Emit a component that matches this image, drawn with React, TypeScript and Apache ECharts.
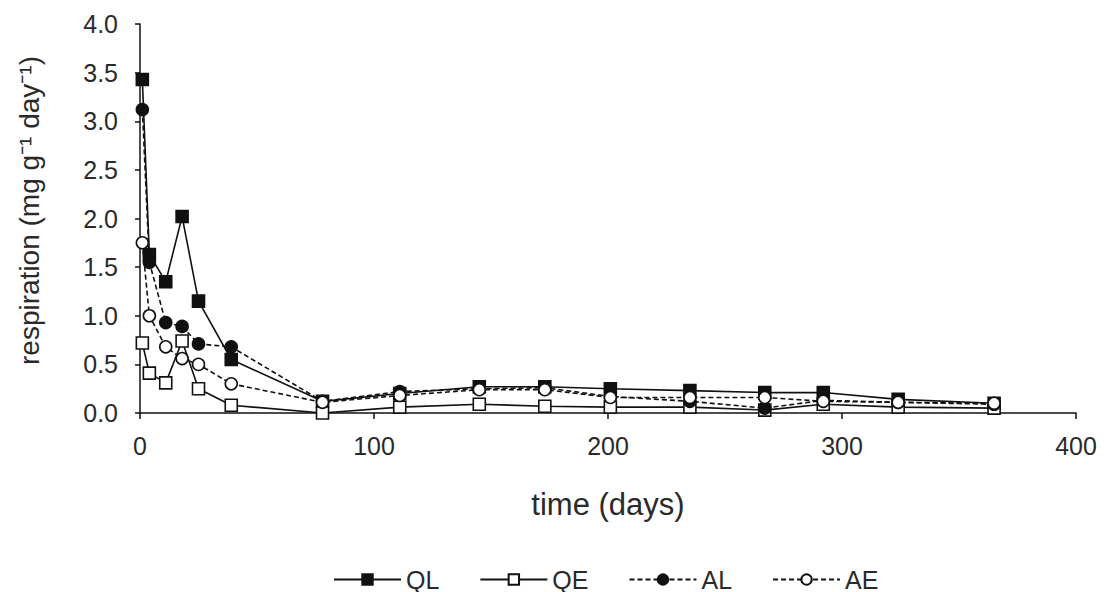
import React, { useEffect, useRef } from "react";
import * as echarts from "echarts";

const days = [1, 4, 11, 18, 25, 39, 78, 111, 145, 173, 201, 235, 267, 292, 324, 365];
const QL = [3.43, 1.63, 1.35, 2.02, 1.15, 0.55, 0.12, 0.2, 0.27, 0.27, 0.25, 0.23, 0.21, 0.21, 0.14, 0.1];
const QE = [0.72, 0.41, 0.31, 0.74, 0.25, 0.08, 0.0, 0.06, 0.09, 0.07, 0.06, 0.06, 0.03, 0.09, 0.06, 0.05];
const AL = [3.12, 1.55, 0.93, 0.89, 0.71, 0.68, 0.12, 0.22, 0.25, 0.26, 0.17, 0.12, 0.05, 0.13, 0.11, 0.09];
const AE = [1.75, 1.0, 0.68, 0.56, 0.5, 0.3, 0.11, 0.18, 0.24, 0.24, 0.16, 0.16, 0.16, 0.12, 0.11, 0.1];
const seriesNames = ["QL", "QE", "AL", "AE"];

const FONT = "'Liberation Sans', Arial, sans-serif";
const TXT = "#2a2a2a";

function pairs(vals: number[]) {
  return days.map((d, i) => [d, vals[i]]);
}

export default function App() {
  const ref = useRef<HTMLDivElement>(null);
  useEffect(() => {
    if (!ref.current) return;
    const chart = echarts.init(ref.current, undefined, { renderer: "svg" });
    const mk = (
      name: string,
      vals: number[],
      symbol: string,
      filled: boolean,
      dashed: boolean
    ) => ({
      name,
      type: "line",
      data: pairs(vals),
      symbol,
      symbolSize: 12,
      showAllSymbol: true,
      lineStyle: { color: "#111", width: 1.6, type: dashed ? [5, 3] : "solid" },
      itemStyle: {
        color: filled ? "#111" : "#fff",
        borderColor: "#111",
        borderWidth: 1.6,
      },
      emphasis: { disabled: true },
    });
    chart.setOption({
      animation: false,
      textStyle: { fontFamily: FONT },
      grid: { left: 140, right: 28, top: 24, bottom: 179 },
      legend: {
        data: seriesNames,
        left: 328,
        top: 562,
        itemWidth: 67,
        itemHeight: 13,
        itemGap: 40,
        textStyle: { fontSize: 25, lineHeight: 22, color: TXT, fontFamily: FONT },
      },
      xAxis: {
        type: "value",
        min: 0,
        max: 400,
        interval: 100,
        name: "time (days)",
        nameLocation: "middle",
        nameGap: 76,
        nameTextStyle: { fontSize: 31, color: TXT, fontFamily: FONT },
        axisLine: { lineStyle: { color: "#111", width: 1.5 } },
        axisTick: { length: 6, lineStyle: { color: "#111", width: 1.5 } },
        axisLabel: { fontSize: 25, color: TXT, margin: 20, fontFamily: FONT },
        splitLine: { show: false },
      },
      yAxis: {
        type: "value",
        min: 0,
        max: 4,
        interval: 0.5,
        name: "respiration (mg g\u207B\u00B9 day\u207B\u00B9)",
        nameLocation: "middle",
        nameGap: 97,
        nameTextStyle: {
          fontSize: 28,
          color: TXT,
          fontFamily: FONT,
          padding: [0, 0, 0, 16],
        },
        axisLine: { show: true, lineStyle: { color: "#111", width: 1.5 } },
        axisTick: { show: true, length: 5, lineStyle: { color: "#111", width: 1.5 } },
        axisLabel: {
          fontSize: 25,
          color: TXT,
          margin: 22,
          fontFamily: FONT,
          formatter: (v: number) => v.toFixed(1),
        },
        splitLine: { show: false },
      },
      series: [
        mk("QL", QL, "rect", true, false),
        mk("QE", QE, "rect", false, false),
        mk("AL", AL, "circle", true, true),
        mk("AE", AE, "circle", false, true),
      ],
    });
    return () => chart.dispose();
  }, []);
  return (
    <div
      ref={ref}
      style={{ position: "fixed", left: 0, top: 0, width: 1104, height: 592, background: "#fff" }}
    />
  );
}
